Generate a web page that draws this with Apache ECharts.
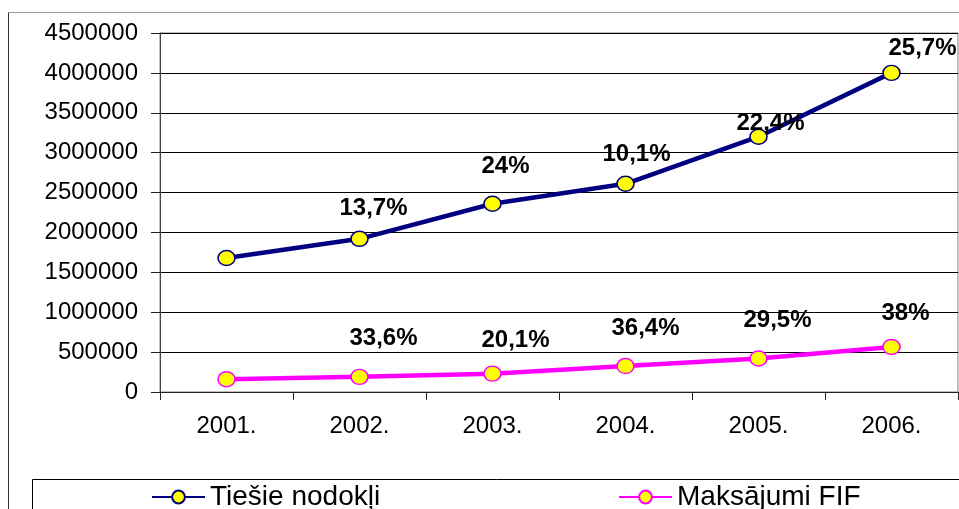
<!DOCTYPE html>
<html>
<head>
<meta charset="utf-8">
<script src="https://cdn.jsdelivr.net/npm/echarts@6/dist/echarts.min.js"></script>
<style>
html,body{margin:0;padding:0;background:#fff;}
#chart{width:959px;height:509px;}
</style>
</head>
<body>
<div id="chart"></div>
<script>
var categories = ['2001.', '2002.', '2003.', '2004.', '2005.', '2006.'];
var seriesNames = ['Tiešie nodokļi', 'Maksājumi FIF'];
var tiesieValues = [1680000, 1920000, 2360000, 2610000, 3200000, 4000000];
var fifValues = [160000, 190000, 230000, 325000, 420000, 565000];
var tiesieLabels = ['', '13,7%', '24%', '10,1%', '22,4%', '25,7%'];
var fifLabels = ['', '33,6%', '20,1%', '36,4%', '29,5%', '38%'];
var yTicks = [0, 500000, 1000000, 1500000, 2000000, 2500000, 3000000, 3500000, 4000000, 4500000];

var FONT = '"Liberation Sans", Arial, sans-serif';
var tiesieOffsets = [[0,0],[14,-30],[13,-37],[11,-29],[12,-13],[31,-25]];
var fifOffsets = [[0,0],[24,-38],[23,-33],[20,-38],[19,-38],[14,-34]];

function makeData(values, labels, offsets) {
  return values.map(function (v, i) {
    return {
      value: v,
      label: {
        show: labels[i] !== '',
        formatter: labels[i],
        position: 'inside',
        offset: offsets[i]
      }
    };
  });
}

var labelStyle = {
  color: '#000',
  fontFamily: FONT,
  fontWeight: 'bold',
  fontSize: 24,
  align: 'center',
  verticalAlign: 'middle'
};

var chart = echarts.init(document.getElementById('chart'), null, {renderer: 'canvas'});
chart.setOption({
  backgroundColor: '#fff',
  animation: false,
  grid: {
    left: 160, right: 1, top: 33, bottom: 117,
    show: true, borderColor: '#808080', borderWidth: 1, backgroundColor: 'transparent'
  },
  xAxis: {
    type: 'category',
    data: categories,
    boundaryGap: true,
    axisLine: {show: true, lineStyle: {color: '#222', width: 1}},
    axisTick: {show: true, length: 8, lineStyle: {color: '#222'}},
    axisLabel: {color: '#000', fontFamily: FONT, fontSize: 24, margin: 22}
  },
  yAxis: {
    type: 'value',
    min: yTicks[0],
    max: yTicks[yTicks.length - 1],
    interval: yTicks[1] - yTicks[0],
    axisLine: {show: true, lineStyle: {color: '#444', width: 1}},
    axisTick: {show: true, length: 9, lineStyle: {color: '#222'}},
    axisLabel: {color: '#000', fontFamily: FONT, fontSize: 24, margin: 22,
      formatter: function (v) { return String(v); }},
    splitLine: {show: true, lineStyle: {color: '#000', width: 1}}
  },
  legend: [
    {
      data: [seriesNames[0]],
      left: 151, top: 483,
      itemWidth: 53, itemHeight: 16,
      textStyle: {color: '#000', fontFamily: FONT, fontSize: 28},
      padding: 0
    },
    {
      data: [seriesNames[1]],
      left: 618, top: 483,
      itemWidth: 53, itemHeight: 16,
      textStyle: {color: '#000', fontFamily: FONT, fontSize: 28},
      padding: 0
    }
  ],
  graphic: [
    {type: 'polyline', shape: {points: [[8.5, 509], [8.5, 12.5]]}, style: {stroke: '#333', lineWidth: 1, fill: null}, silent: true},
    {type: 'polyline', shape: {points: [[8.5, 12.5], [959, 12.5]]}, style: {stroke: '#999', lineWidth: 1, fill: null}, silent: true},
    {type: 'rect', shape: {x: 32.5, y: 479.5, width: 940, height: 40}, style: {stroke: '#000', lineWidth: 1, fill: null}, silent: true}
  ],
  series: [
    {
      name: seriesNames[0],
      type: 'line',
      data: makeData(tiesieValues, tiesieLabels, tiesieOffsets),
      symbol: 'circle',
      symbolSize: [17, 15],
      lineStyle: {color: '#000080', width: 4.5},
      itemStyle: {color: '#ffff00', borderColor: '#000080', borderWidth: 1.5},
      label: labelStyle,
      z: 3
    },
    {
      name: seriesNames[1],
      type: 'line',
      data: makeData(fifValues, fifLabels, fifOffsets),
      symbol: 'circle',
      symbolSize: [17, 15],
      lineStyle: {color: '#ff00ff', width: 4.5},
      itemStyle: {color: '#ffff00', borderColor: '#ff00ff', borderWidth: 1.5},
      label: labelStyle,
      z: 3
    }
  ]
});
</script>
</body>
</html>
